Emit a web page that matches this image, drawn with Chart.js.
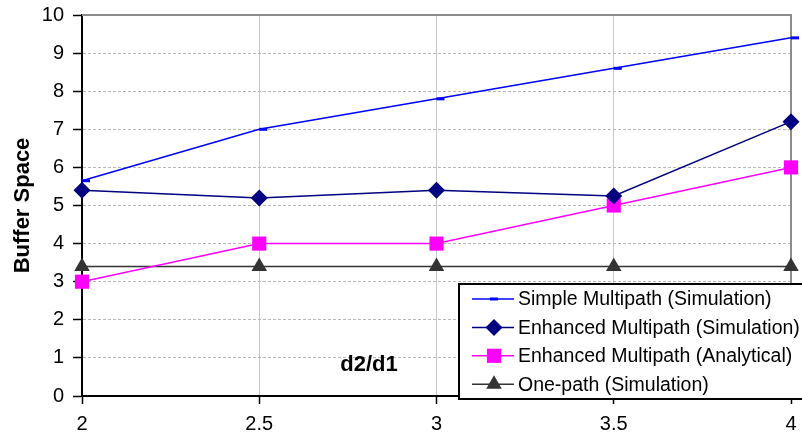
<!DOCTYPE html>
<html>
<head>
<meta charset="utf-8">
<script src="https://cdn.jsdelivr.net/npm/chart.js@4/dist/chart.umd.min.js"></script>
<style>
  html, body { margin: 0; padding: 0; background: #fff; }
  #wrap { width: 802px; height: 441px; }
</style>
</head>
<body>
<div id="wrap"><canvas id="bufferChart" width="802" height="441"></canvas></div>
<script>
var ratios = [2, 2.5, 3, 3.5, 4];
var simpleMultipathSim = [5.65, 7.0, 7.8, 8.6, 9.4];
var enhancedMultipathSim = [5.4, 5.2, 5.4, 5.25, 7.2];
var enhancedMultipathAna = [3, 4, 4, 5, 6];
var onePathSim = [3.4, 3.4, 3.4, 3.4, 3.4];

var seriesNames = [
    'Simple Multipath (Simulation)',
    'Enhanced Multipath (Simulation)',
    'Enhanced Multipath (Analytical)',
    'One-path (Simulation)'
];

var FONT = '"Liberation Sans", Arial, sans-serif';

function toPoints(values) {
    return values.map(function (v, i) { return { x: ratios[i], y: v }; });
}

function makeDataset(label, values, color, style, radius, borderWidth) {
    return {
        label: label,
        data: toPoints(values),
        borderColor: color,
        backgroundColor: color,
        borderWidth: 1.5,
        pointStyle: style,
        pointRadius: radius,
        pointHoverRadius: radius,
        pointBorderWidth: borderWidth,
        pointBorderColor: color,
        pointBackgroundColor: color,
        tension: 0,
        clip: false
    };
}

// plot frame (top + right), x axis caption and the boxed legend
var decorations = {
    id: 'decorations',
    beforeDatasetsDraw: function (chart) {
        var a = chart.chartArea, ctx = chart.ctx;
        ctx.save();
        ctx.strokeStyle = '#8c8c8c';
        ctx.lineWidth = 2;
        ctx.beginPath();
        ctx.moveTo(a.left, a.top);
        ctx.lineTo(a.right, a.top);
        ctx.lineTo(a.right, a.bottom);
        ctx.stroke();
        ctx.fillStyle = '#000';
        ctx.font = 'bold 22px ' + FONT;
        ctx.textAlign = 'center';
        ctx.textBaseline = 'middle';
        ctx.fillText('d2/d1', 369, 365);
        ctx.restore();
    },
    afterDraw: function (chart) {
        var ctx = chart.ctx;
        var box = { x: 459, y: 284, w: 350, h: 115 };
        ctx.save();
        ctx.fillStyle = '#fff';
        ctx.fillRect(box.x, box.y, box.w, box.h);
        ctx.strokeStyle = '#000';
        ctx.lineWidth = 2;
        ctx.strokeRect(box.x, box.y, box.w, box.h);

        ctx.font = '19.5px ' + FONT;
        ctx.textBaseline = 'middle';
        ctx.textAlign = 'left';
        chart.data.datasets.forEach(function (ds, i) {
            var y = 299 + i * 28.4;
            ctx.strokeStyle = ds.borderColor;
            ctx.lineWidth = ds.borderWidth;
            ctx.beginPath();
            ctx.moveTo(472, y);
            ctx.lineTo(514, y);
            ctx.stroke();
            ctx.fillStyle = ds.pointBackgroundColor;
            ctx.strokeStyle = ds.pointBorderColor;
            ctx.lineWidth = ds.pointBorderWidth;
            var cx = ds.pointStyle === 'dash' ? 490 : 494;
            Chart.helpers.drawPoint(ctx, {
                pointStyle: ds.pointStyle,
                radius: ds.pointRadius,
                borderWidth: ds.pointBorderWidth,
                rotation: 0
            }, cx, y);
            ctx.fillStyle = '#000';
            ctx.fillText(ds.label, 518, y + 1);
        });
        ctx.restore();
    }
};

var ctx = document.getElementById('bufferChart').getContext('2d');
var chart = new Chart(ctx, {
    type: 'line',
    data: {
        datasets: [
            makeDataset(seriesNames[0], simpleMultipathSim, '#0000ff', 'dash', 8, 3),
            makeDataset(seriesNames[1], enhancedMultipathSim, '#000080', 'rectRot', 8.5, 0),
            makeDataset(seriesNames[2], enhancedMultipathAna, '#ff00ff', 'rect', 10, 0),
            makeDataset(seriesNames[3], onePathSim, '#333333', 'triangle', 9, 0)
        ]
    },
    options: {
        responsive: false,
        animation: false,
        layout: { padding: { top: 15, right: 7, left: 0, bottom: 0 } },
        plugins: {
            legend: { display: false },
            tooltip: { enabled: false }
        },
        scales: {
            x: {
                type: 'linear',
                min: 2,
                max: 4,
                ticks: {
                    stepSize: 0.5,
                    color: '#000',
                    padding: 8,
                    maxRotation: 0,
                    font: { family: FONT, size: 20 },
                    callback: function (v) { return String(v); }
                },
                grid: {
                    color: '#c8c8c8',
                    lineWidth: 1,
                    tickColor: '#000',
                    tickLength: 8,
                    tickWidth: 1.5
                },
                border: { color: '#000', width: 2 },
                afterFit: function (scale) {
                    scale.height = 45;
                    scale.paddingLeft = 0;
                    scale.paddingRight = 0;
                }
            },
            y: {
                min: 0,
                max: 10,
                ticks: {
                    stepSize: 1,
                    color: '#000',
                    padding: 9,
                    font: { family: FONT, size: 20 }
                },
                grid: {
                    color: '#b8b8b8',
                    lineWidth: 1,
                    tickColor: '#000',
                    tickLength: 9,
                    tickWidth: 1.5
                },
                border: { color: '#000', width: 2, dash: [3, 2] },
                title: {
                    display: true,
                    text: 'Buffer Space',
                    color: '#000',
                    padding: { top: 10, bottom: 0 },
                    font: { family: FONT, size: 22, weight: 'bold' }
                },
                afterFit: function (scale) {
                    scale.width = 82;
                    scale.paddingTop = 0;
                    scale.paddingBottom = 0;
                }
            }
        }
    },
    plugins: [decorations]
});
</script>
</body>
</html>
